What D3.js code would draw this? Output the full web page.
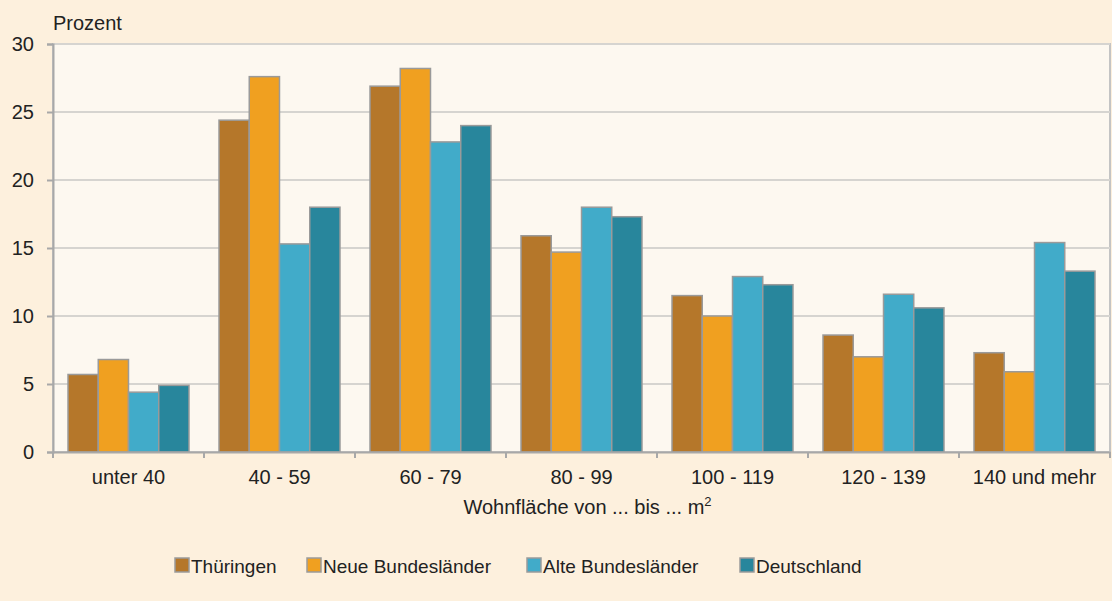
<!DOCTYPE html>
<html>
<head>
<meta charset="utf-8">
<script src="https://cdn.jsdelivr.net/npm/d3@7"></script>
<style>
  body { margin: 0; background: #fdf0dd; }
  svg { display: block; font-family: "Liberation Sans", Arial, sans-serif; }
  .tick text { font-size: 20px; fill: #222; }
</style>
</head>
<body>
<svg></svg>
<script>
const categories = ["unter 40", "40 - 59", "60 - 79", "80 - 99", "100 - 119", "120 - 139", "140 und mehr"];
const seriesNames = ["Thüringen", "Neue Bundesländer", "Alte Bundesländer", "Deutschland"];
const thueringen = [5.7, 24.4, 26.9, 15.9, 11.5, 8.6, 7.3];
const neueLaender = [6.8, 27.6, 28.2, 14.7, 10.0, 7.0, 5.9];
const alteLaender = [4.4, 15.3, 22.8, 18.0, 12.9, 11.6, 15.4];
const deutschland = [4.9, 18.0, 24.0, 17.3, 12.3, 10.6, 13.3];
const yTicks = [0, 5, 10, 15, 20, 25, 30];
const colors = ["#b5772a", "#f0a020", "#41abc9", "#28869c"];

const seriesValues = [thueringen, neueLaender, alteLaender, deutschland];
const data = categories.map((c, i) => ({
  cat: c,
  values: seriesNames.map((s, j) => ({ key: s, value: seriesValues[j][i] }))
}));

const W = 1112, H = 601;
const margin = { top: 44, right: 2, bottom: 149, left: 53 };
const width = W - margin.left - margin.right;
const height = H - margin.top - margin.bottom;

const svgRoot = d3.select("svg").attr("width", W).attr("height", H);
svgRoot.append("rect").attr("width", W).attr("height", H).attr("fill", "#fdf0dd");

const svg = svgRoot.append("g").attr("transform", `translate(${margin.left},${margin.top})`);

const x0 = d3.scaleBand().domain(categories).range([0, width]).padding(0);
const x1 = d3.scaleBand().domain(seriesNames).range([15, x0.bandwidth() - 15]).padding(0);
const y = d3.scaleLinear().domain([0, 30]).range([height, 0]);
const color = d3.scaleOrdinal().domain(seriesNames).range(colors);

// plot background
svg.append("rect")
  .attr("width", width).attr("height", height)
  .attr("fill", "#fdf8f0")
  .attr("stroke", "#c4c4c4").attr("stroke-width", 2);

// grid lines
svg.append("g").selectAll("line")
  .data(yTicks.filter(d => d > 0))
  .join("line")
  .attr("x1", 0).attr("x2", width)
  .attr("y1", d => y(d)).attr("y2", d => y(d))
  .attr("stroke", "#d6d4d0").attr("stroke-width", 2);

// bars
svg.append("g").selectAll("g")
  .data(data)
  .join("g")
  .attr("transform", d => `translate(${x0(d.cat)},0)`)
  .selectAll("rect")
  .data(d => d.values)
  .join("rect")
  .attr("x", d => x1(d.key))
  .attr("width", x1.bandwidth())
  .attr("y", d => y(d.value))
  .attr("height", d => y(0) - y(d.value))
  .attr("fill", d => color(d.key))
  .attr("stroke", "#9a9a9a").attr("stroke-width", 1.5);

// y axis
const yAxis = svg.append("g")
  .call(d3.axisLeft(y).tickValues(yTicks).tickSize(6).tickPadding(13));
yAxis.select(".domain").attr("stroke", "#a8a8a8").attr("stroke-width", 2);
yAxis.selectAll(".tick line").attr("stroke", "#a8a8a8").attr("stroke-width", 2);

// x axis
const xAxis = svg.append("g")
  .attr("transform", `translate(0,${height})`)
  .call(d3.axisBottom(x0).tickSize(0).tickPadding(18));
xAxis.select(".domain").attr("stroke", "#a8a8a8").attr("stroke-width", 2);

const edges = categories.map(c => x0(c)).concat([width]);
svg.append("g").selectAll("line")
  .data(edges)
  .join("line")
  .attr("x1", d => d).attr("x2", d => d)
  .attr("y1", height).attr("y2", height + 6)
  .attr("stroke", "#a8a8a8").attr("stroke-width", 2);

// axis titles
svgRoot.append("text")
  .attr("x", 53).attr("y", 30)
  .attr("font-size", 20).attr("fill", "#222")
  .text("Prozent");

const xt = svgRoot.append("text")
  .attr("x", margin.left + width / 2 + 6).attr("y", 514)
  .attr("text-anchor", "middle")
  .attr("font-size", 20).attr("fill", "#222");
xt.append("tspan").text("Wohnfläche von ... bis ... m");
xt.append("tspan").attr("font-size", 13).attr("dy", -8).text("2");

// legend
const legendX = [175, 307, 527, 740];
const legend = svgRoot.append("g").selectAll("g")
  .data(seriesNames)
  .join("g")
  .attr("transform", (d, i) => `translate(${legendX[i]},558)`);
legend.append("rect")
  .attr("width", 14).attr("height", 14)
  .attr("fill", d => color(d))
  .attr("stroke", "#9a9a9a").attr("stroke-width", 1.5);
legend.append("text")
  .attr("x", 16).attr("y", 14.5)
  .attr("font-size", 19).attr("fill", "#222")
  .text(d => d);
</script>
</body>
</html>
